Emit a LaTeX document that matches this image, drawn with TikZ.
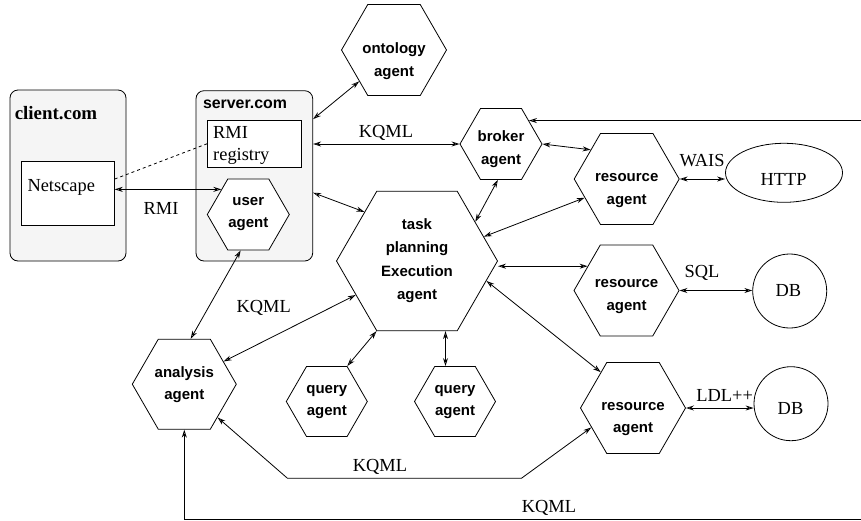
\documentclass[tikz,border=0pt]{standalone}
\usepackage{fontspec}
\setmainfont{Liberation Serif}
\setsansfont{Liberation Sans}
\usetikzlibrary{shapes.geometric,arrows.meta}
\begin{document}
\begin{tikzpicture}[x=1pt,y=-1pt,
  >={Stealth[open,length=8pt,width=5pt]},
  hex/.style={draw, regular polygon, regular polygon sides=6, inner sep=0pt, fill=white, line width=0.8pt},
  hextxt/.style={font=\sffamily\bfseries\fontsize{15}{22.5}\selectfont, align=center, inner sep=0pt},
  lbl/.style={font=\fontsize{18.4}{22}\selectfont, inner sep=0pt},
  conn/.style={line width=0.8pt, <->},
  host/.style={draw, rounded corners=8pt, fill=gray!8, line width=0.8pt, inner sep=0pt},
  plainbox/.style={draw, fill=white, inner sep=0pt, line width=0.8pt},
  roundres/.style={draw, fill=white, inner sep=0pt, line width=0.8pt}]
\clip (0,0) rectangle (861,520);
\fill[white] (0,0) rectangle (861,520);

% hosts
\node[host, minimum width=116pt, minimum height=171pt] (client) at (68,175.5) {};
\node[host, minimum width=116.7pt, minimum height=170.3pt] (server) at (254.35,175.85) {};
\node[font=\bfseries\fontsize{18.9}{22}\selectfont, inner sep=0pt] (clientlbl) at (56,113) {client.com};
\node[font=\sffamily\bfseries\fontsize{15.9}{20}\selectfont, inner sep=0pt] (serverlbl) at (245,104) {server.com};
\node[plainbox, minimum width=92.6pt, minimum height=64.7pt] (netscape) at (68,193.3) {};
\node[lbl, anchor=west] (netlbl) at (27.3,187) {Netscape};
\node[plainbox, minimum width=93.7pt, minimum height=47pt] (registry) at (254.2,143.8) {};
\node[lbl, anchor=west, align=left] (reglbl) at (213,145.5) {RMI\\registry};

% agents
\node[hex, minimum size=105pt] (ont) at (394,50) {};
\node[hextxt] (ontt) at (394,61) {ontology\\agent};
\node[hex, minimum size=82pt] (broker) at (501,144) {};
\node[hextxt] (brokert) at (501,149.3) {broker\\agent};
\node[hex, minimum size=105pt] (res1) at (626.7,179) {};
\node[hextxt] (res1t) at (626.7,190.3) {resource\\agent};
\node[hex, minimum size=105pt] (res2) at (626.5,290.5) {};
\node[hextxt] (res2t) at (626.5,296.7) {resource\\agent};
\node[hex, minimum size=105pt] (res3) at (633,408) {};
\node[hextxt] (res3t) at (633,419) {resource\\agent};
\node[hex, minimum size=161pt] (task) at (417,261) {};
\node[hextxt, font=\sffamily\bfseries\fontsize{15}{23.3}\selectfont] (taskt) at (417,260.7) {task\\planning\\Execution\\agent};
\node[hex, minimum size=82pt] (user) at (248.3,214.5) {};
\node[hextxt] (usert) at (248.3,214.2) {user\\agent};
\node[hex, minimum size=104pt] (analysis) at (184.3,384.2) {};
\node[hextxt] (analysist) at (184.3,384.7) {analysis\\agent};
\node[hex, minimum size=81pt] (q1) at (326.8,401.5) {};
\node[hextxt] (q1t) at (326.8,402) {query\\agent};
\node[hex, minimum size=81pt] (q2) at (455,401.5) {};
\node[hextxt] (q2t) at (455,402) {query\\agent};

% resources
\node[roundres, ellipse, minimum width=117pt, minimum height=59pt] (http) at (784,172.8) {};
\node[lbl] (httpt) at (783.7,179) {HTTP};
\node[roundres, circle, minimum size=74pt] (db1) at (789.7,291) {};
\node[lbl] (db1t) at (788.3,290.7) {DB};
\node[roundres, circle, minimum size=74pt] (db2) at (791,403.7) {};
\node[lbl] (db2t) at (790.5,408) {DB};

% corner points
\coordinate (c1) at (287.5,478.3);
\coordinate (c2) at (521.4,478.3);
\coordinate (cbot) at (875,519);

% connectors
\draw[conn] (ont.222) -- (server.44.7);
\draw[conn] (server.east |- broker.west) -- (broker.west);
\draw[conn] (server.344.8) -- (task.137);
\draw[line width=0.8pt, dashed] (netscape.17) -- (registry.west);
\draw[conn] (netscape.east |- user.137) -- (user.137);
\draw[conn] (broker.0) -- (res1.141);
\draw[conn] (broker.265) -- (task.34);
\draw[conn] (task.20) -- (res1.204);
\draw[conn] (task.east |- res2.148) -- (res2.148);
\draw[conn] (res1.east) -- (res1.east -| http.west);
\draw[conn] (res2.east) -- (res2.east -| db1.west);
\draw[conn] (res3.east) -- (res3.east -| db2.west);
\draw[conn] (task.344) -- (res3.132);
\draw[conn] (analysis.315) -- (c1) -- (c2) -- (res3.205);
\draw[conn] (analysis.south) |- (cbot) |- (broker.40);
\draw[conn] (user.258) -- (analysis.82);
\draw[conn] (task.209) -- (analysis.30);
\draw[conn] (task.240) -- (q1.60);
\draw[conn] (q2.105 |- task.south) -- (q2.105);

% labels
\node[lbl] (l1) at (386,133) {KQML};
\node[lbl] (l2) at (161,208) {RMI};
\node[lbl] (l3) at (702,161) {WAIS};
\node[lbl] (l4) at (702,273) {SQL};
\node[lbl] (l5) at (724.7,395) {LDL++};
\node[lbl] (l6) at (263.7,308) {KQML};
\node[lbl] (l7) at (380,466.7) {KQML};
\node[lbl] (l8) at (549,508) {KQML};
\end{tikzpicture}
\end{document}
